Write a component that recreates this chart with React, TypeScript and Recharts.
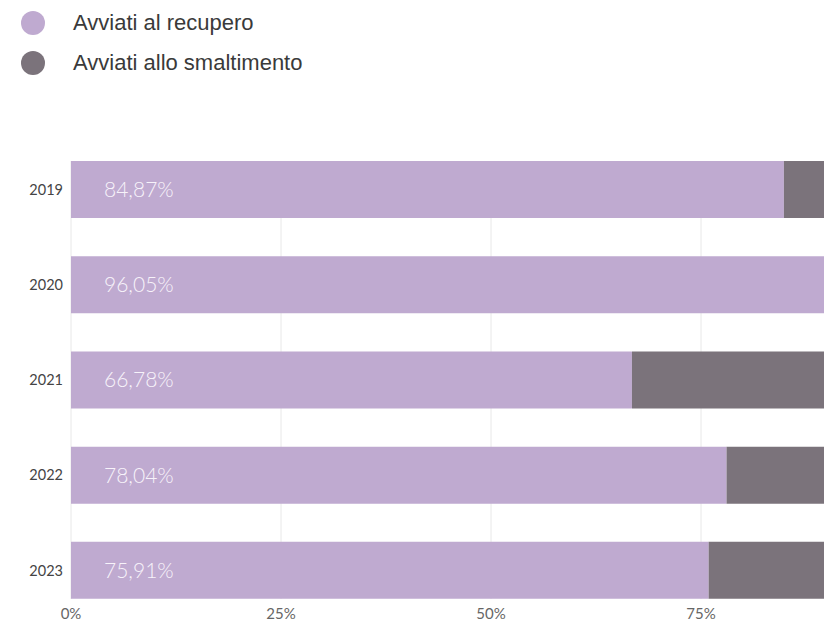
import { BarChart, Bar, XAxis, YAxis, CartesianGrid, LabelList } from "recharts";

const years = ["2019", "2020", "2021", "2022", "2023"];
const recupero = [84.87, 96.05, 66.78, 78.04, 75.91];
const smaltimento = [15.13, 3.95, 33.22, 21.96, 24.09];
const xTicks = [0, 25, 50, 75];

const LIGHT = "#bfaad0";
const DARK = "#7b737b";

const data = years.map((year, i) => ({
  year,
  recupero: recupero[i],
  smaltimento: smaltimento[i],
}));

const legendItems = [
  { label: "Avviati al recupero", color: LIGHT },
  { label: "Avviati allo smaltimento", color: DARK },
];

const fmtPct = (v: number) => v.toFixed(2).replace(".", ",") + "%";

export default function App() {
  return (
    <div
      style={{
        position: "absolute",
        left: 0,
        top: 0,
        width: 824,
        height: 621,
        overflow: "hidden",
        background: "#fff",
      }}
    >
      {/* legend */}
      {legendItems.map((item, i) => (
        <div
          key={item.label}
          style={{
            position: "absolute",
            left: 21,
            top: 9 + i * 40,
            display: "flex",
            alignItems: "center",
            fontFamily: "'Liberation Sans', Arial, sans-serif",
            fontSize: 22,
            color: "#3a3a3a",
            height: 28,
          }}
        >
          <span
            style={{
              width: 24,
              height: 24,
              borderRadius: "50%",
              background: item.color,
              display: "inline-block",
              marginRight: 28,
            }}
          />
          {item.label}
        </div>
      ))}

      <div style={{ position: "absolute", left: 0, top: 0 }}>
        <BarChart
          width={911}
          height={621}
          data={data}
          layout="vertical"
          barCategoryGap="20%"
          margin={{ top: 161, right: 0, bottom: 0, left: 0 }}
        >
          <CartesianGrid horizontal={false} vertical stroke="#e8e8e8" />
          <XAxis
            type="number"
            domain={[0, 100]}
            ticks={xTicks}
            tickFormatter={(v) => `${v}%`}
            axisLine={false}
            tickLine={false}
            height={22}
            tickMargin={3}
            tick={{ fill: "#666", fontSize: 15, fontFamily: "Lato, sans-serif" }}
          />
          <YAxis
            type="category"
            dataKey="year"
            width={71}
            axisLine={false}
            tickLine={false}
            padding={{ top: -19, bottom: -19 }}
            tick={{ fill: "#444", fontSize: 14.5, fontFamily: "Lato, sans-serif" }}
          />
          <Bar dataKey="recupero" stackId="a" fill={LIGHT} isAnimationActive={false}>
            <LabelList
              dataKey="recupero"
              position="insideLeft"
              offset={33}
              formatter={(v: any) => fmtPct(Number(v))}
              fill="#f7f3fa"
              fontSize={21}
              fontWeight={300}
              fontFamily="Lato, sans-serif"
            />
          </Bar>
          <Bar dataKey="smaltimento" stackId="a" fill={DARK} isAnimationActive={false} />
        </BarChart>
      </div>
    </div>
  );
}
